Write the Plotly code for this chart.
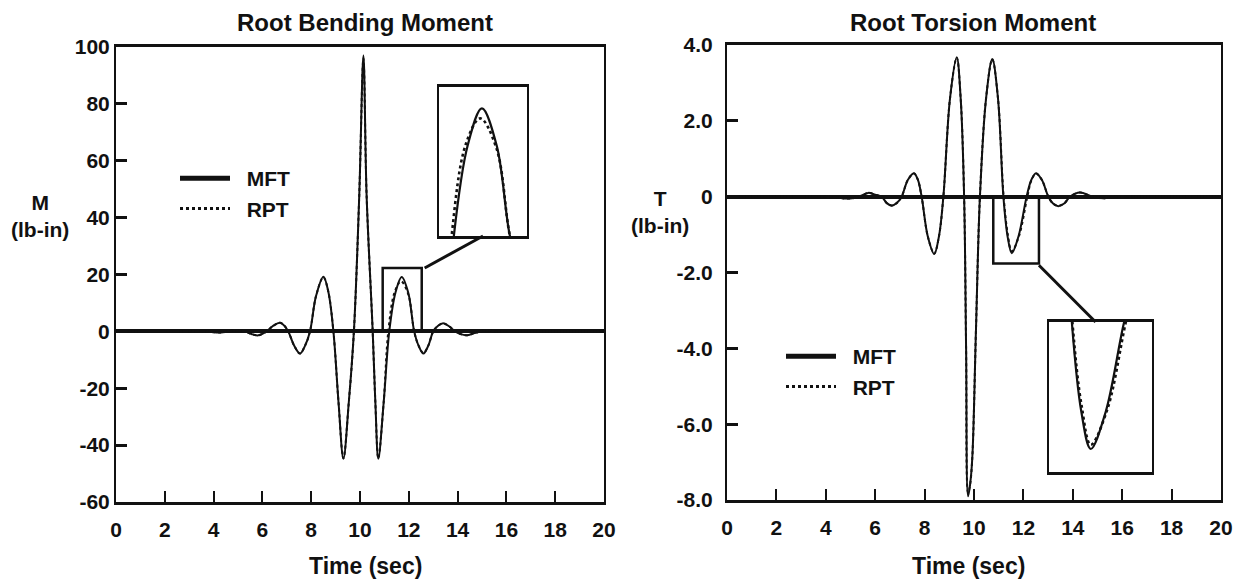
import plotly.graph_objects as go

# ---------------- data ----------------
t_bend_mft = [0.0, 1.0, 2.0, 3.0, 3.6, 4.3, 4.6, 4.95, 5.3, 5.55, 5.83, 6.17, 6.45, 6.72, 6.9,
              7.06, 7.3, 7.54, 7.75, 7.95, 8.2, 8.5, 8.7, 8.91, 9.12, 9.32, 9.54, 9.75, 9.97, 10.14,
              10.27, 10.52, 10.63, 10.75, 10.97, 11.2, 11.45, 11.71, 11.98, 12.22, 12.4, 12.6, 12.8,
              13.0, 13.2, 13.41, 13.65, 13.9, 14.1, 14.37, 14.7, 15.1, 15.6, 16.0, 17.0, 18.0, 19.0, 20.0]
m_bend_mft = [0, 0, 0, 0, 0, -0.4, 0, 0.4, 0, -0.9, -1.4, 0, 2.0, 3.0, 2.0,
              0, -5.0, -7.8, -5.0, 0, 12.5, 19.2, 14.0, 0, -25, -44.8, -25, 0, 48, 97,
              48, 0, -25, -44.8, -25, 0, 13.5, 19.1, 13.5, 0, -5.0, -7.8, -5.0,
              0, 2.0, 2.9, 1.8, 0, -0.9, -1.4, -0.6, 0.3, 0, 0, 0, 0, 0, 0]

t_bend_rpt = [0.0, 1.0, 2.0, 3.0, 3.6, 4.3, 4.6, 4.95, 5.3, 5.55, 5.83, 6.17, 6.45, 6.72, 6.9,
              7.06, 7.3, 7.54, 7.75, 7.95, 8.2, 8.5, 8.7, 8.91, 9.12, 9.32, 9.54, 9.75, 9.97, 10.14,
              10.27, 10.52, 10.63, 10.75, 10.97, 11.16, 11.42, 11.68, 11.98, 12.22, 12.4, 12.6, 12.8,
              13.0, 13.2, 13.41, 13.65, 13.9, 14.1, 14.37, 14.7, 15.1, 15.6, 16.0, 17.0, 18.0, 19.0, 20.0]
m_bend_rpt = [0, 0, 0, 0, 0, -0.4, 0, 0.4, 0, -0.9, -1.4, 0, 2.0, 3.0, 2.0,
              0, -5.0, -7.8, -5.0, 0, 12.5, 19.0, 14.0, 0, -25, -44.6, -25, 0, 48, 96,
              48, 0, -25, -44.6, -25, 0, 13.8, 17.6, 13.0, 0, -5.0, -7.6, -5.0,
              0, 2.0, 2.8, 1.8, 0, -0.9, -1.4, -0.6, 0.3, 0, 0, 0, 0, 0, 0]

t_tors_mft = [0.0, 2.0, 4.0, 4.98, 5.35, 5.72, 6.0, 6.26, 6.47, 6.67, 6.87, 7.07, 7.32, 7.57, 7.73,
              7.88, 8.13, 8.39, 8.58, 8.76, 9.03, 9.3, 9.46, 9.6, 9.68, 9.76, 9.84, 9.93, 10.08, 10.24,
              10.49, 10.74, 10.97, 11.19, 11.36, 11.53, 11.8, 12.13, 12.32, 12.51, 12.75, 13.01, 13.2,
              13.41, 13.65, 13.89, 14.29, 14.8, 15.3, 16.0, 16.6, 18.0, 20.0]
m_tors_mft = [0, 0, 0, -0.05, 0, 0.1, 0.05, 0, -0.17, -0.24, -0.17, 0, 0.44, 0.62, 0.44,
              0, -1.05, -1.51, -1.05, 0, 2.6, 3.68, 2.6, 0, -4.0, -7.9, -7.6, -6.9, -3.5, 0,
              2.6, 3.63, 2.6, 0, -1.05, -1.49, -1.05, 0, 0.44, 0.62, 0.44, 0, -0.18,
              -0.25, -0.18, 0, 0.11, 0, -0.04, 0.02, 0, 0, 0]

t_tors_rpt = [0.0, 2.0, 4.0, 4.98, 5.35, 5.72, 6.0, 6.26, 6.47, 6.67, 6.87, 7.07, 7.32, 7.57, 7.73,
              7.88, 8.13, 8.39, 8.58, 8.76, 9.03, 9.3, 9.46, 9.6, 9.68, 9.76, 9.84, 9.93, 10.08, 10.24,
              10.49, 10.74, 10.97, 11.2, 11.37, 11.53, 11.83, 12.16, 12.33, 12.51, 12.75, 13.01, 13.2,
              13.41, 13.65, 13.89, 14.29, 14.8, 15.3, 16.0, 16.6, 18.0, 20.0]
m_tors_rpt = [0, 0, 0, -0.05, 0, 0.1, 0.05, 0, -0.17, -0.23, -0.17, 0, 0.44, 0.61, 0.44,
              0, -1.05, -1.50, -1.05, 0, 2.6, 3.66, 2.6, 0, -4.0, -7.8, -7.6, -6.9, -3.5, 0,
              2.6, 3.62, 2.6, 0, -1.0, -1.44, -1.02, 0, 0.44, 0.61, 0.44, 0, -0.18,
              -0.24, -0.18, 0, 0.11, 0, -0.04, 0.02, 0, 0, 0]

x_ticks = [0, 2, 4, 6, 8, 10, 12, 14, 16, 18, 20]
bend_yticks = [100, 80, 60, 40, 20, 0, -20, -40, -60]
bend_yticklabels = ["100", "80", "60", "40", "20", "0", "-20", "-40", "-60"]
tors_yticks = [4, 2, 0, -2, -4, -6, -8]
tors_yticklabels = ["4.0", "2.0", "0", "-2.0", "-4.0", "-6.0", "-8.0"]

series_names = ["MFT", "RPT"]

# zoom windows (shown magnified in the insets)
bend_zoom_x = [10.93, 12.53]
bend_zoom_y = [0, 22.3]
tors_zoom_x = [10.78, 12.63]
tors_zoom_y = [-1.76, 0]

# ---------------- layout geometry (page has an 8px body margin) ----------------
OFF = 8
W, H = 1238, 578
def px(x):
    return (x - OFF) / W
def py(y):
    return 1 - (y - OFF) / H

main1_x = [px(116), px(604)]
main1_y = [py(502), py(47)]
main2_x = [px(727), px(1221)]
main2_y = [py(500), py(45)]
ins1_x = [px(439), px(527)]
ins1_y = [py(236), py(87)]
ins2_x = [px(1049), px(1152)]
ins2_y = [py(472), py(322)]

bend_range = [-60, 100]
tors_range = [-8, 4]
t_range = [0, 20]

FONT = "Liberation Sans, Arial, sans-serif"
BLACK = "#111111"

fig = go.Figure()

def add_pair(tm, vm, tr, vr, xa, ya, w_solid=2, w_dot=2):
    fig.add_trace(go.Scatter(x=tm, y=vm, mode="lines", xaxis=xa, yaxis=ya,
                             line=dict(color=BLACK, width=w_solid, shape="spline"),
                             showlegend=False, hoverinfo="skip"))
    fig.add_trace(go.Scatter(x=tr, y=vr, mode="lines", xaxis=xa, yaxis=ya,
                             line=dict(color=BLACK, width=w_dot, dash="dot", shape="spline"),
                             showlegend=False, hoverinfo="skip"))

add_pair(t_bend_mft, m_bend_mft, t_bend_rpt, m_bend_rpt, "x", "y")
add_pair(t_tors_mft, m_tors_mft, t_tors_rpt, m_tors_rpt, "x2", "y2")
add_pair(t_bend_mft, m_bend_mft, t_bend_rpt, m_bend_rpt, "x3", "y3", 2.2, 2.6)
add_pair(t_tors_mft, m_tors_mft, t_tors_rpt, m_tors_rpt, "x4", "y4", 2.2, 2.6)

# legend entries
NB = "\u00a0\u00a0"
for lg, xa, ya in [("legend", "x", "y"), ("legend2", "x2", "y2")]:
    fig.add_trace(go.Scatter(x=[None], y=[None], mode="lines", name=NB + series_names[0],
                             xaxis=xa, yaxis=ya, legend=lg,
                             line=dict(color=BLACK, width=5)))
    fig.add_trace(go.Scatter(x=[None], y=[None], mode="lines", name=NB + series_names[1],
                             xaxis=xa, yaxis=ya, legend=lg,
                             line=dict(color=BLACK, width=3, dash="dot")))

tickfont = dict(family=FONT, size=21, color=BLACK, weight="bold")

def main_x(domain, anchor):
    return dict(domain=domain, anchor=anchor, range=t_range, tickvals=x_ticks,
                ticktext=[str(v) for v in x_ticks], ticks="inside", ticklen=11, tickwidth=2,
                tickcolor=BLACK, showline=True, linewidth=3, linecolor=BLACK, mirror=True,
                showgrid=False, zeroline=False, tickfont=tickfont, ticklabelstandoff=7,
                fixedrange=True, automargin=False)

def main_y(domain, anchor, rng, vals, labels, standoff):
    return dict(domain=domain, anchor=anchor, range=rng, tickvals=vals, ticktext=labels,
                ticks="inside", ticklen=11, tickwidth=2.5, tickcolor=BLACK, showline=True,
                linewidth=2, linecolor=BLACK, mirror=True, showgrid=False, zeroline=True,
                zerolinecolor=BLACK, zerolinewidth=3.5, tickfont=tickfont,
                ticklabelstandoff=standoff, fixedrange=True, automargin=False)

def inset_axis(domain, anchor, rng, lw):
    return dict(domain=domain, anchor=anchor, range=rng, showticklabels=False, ticks="",
                showline=True, linewidth=lw, linecolor=BLACK, mirror=True, showgrid=False,
                zeroline=False, fixedrange=True, automargin=False)

legfont = dict(family=FONT, size=21, color=BLACK, weight="bold")
fig.update_layout(
    width=W, height=H, margin=dict(l=0, r=0, t=0, b=0, autoexpand=False),
    paper_bgcolor="white", plot_bgcolor="rgba(0,0,0,0)",
    font=dict(family=FONT, size=21, color=BLACK),
    xaxis=main_x(main1_x, "y"),
    yaxis=main_y(main1_y, "x", bend_range, bend_yticks, bend_yticklabels, 0),
    xaxis2=main_x(main2_x, "y2"),
    yaxis2=main_y(main2_y, "x2", tors_range, tors_yticks, tors_yticklabels, 8),
    xaxis3=inset_axis(ins1_x, "y3", bend_zoom_x, 3),
    yaxis3=inset_axis(ins1_y, "x3", bend_zoom_y, 2),
    xaxis4=inset_axis(ins2_x, "y4", tors_zoom_x, 3),
    yaxis4=inset_axis(ins2_y, "x4", tors_zoom_y, 2),
    legend=dict(x=px(175), y=py(158), xanchor="left", yanchor="top",
                bgcolor="rgba(0,0,0,0)", font=legfont, itemwidth=50, tracegroupgap=0),
    legend2=dict(x=px(781), y=py(336), xanchor="left", yanchor="top",
                 bgcolor="rgba(0,0,0,0)", font=legfont, itemwidth=50, tracegroupgap=0),
    showlegend=True,
)

# zoom boxes and connectors
def data_from_paper(pxv, pyv, xdom, ydom, xr, yr):
    xd = xr[0] + (pxv - xdom[0]) / (xdom[1] - xdom[0]) * (xr[1] - xr[0])
    yd = yr[0] + (pyv - ydom[0]) / (ydom[1] - ydom[0]) * (yr[1] - yr[0])
    return xd, yd

fig.add_shape(type="rect", xref="x", yref="y", x0=bend_zoom_x[0], x1=bend_zoom_x[1],
              y0=bend_zoom_y[0], y1=bend_zoom_y[1], line=dict(color=BLACK, width=2.5))
cx, cy = data_from_paper((ins1_x[0] + ins1_x[1]) / 2, ins1_y[0], main1_x, main1_y, t_range, bend_range)
fig.add_shape(type="line", xref="x", yref="y", x0=bend_zoom_x[1] + 0.12, y0=bend_zoom_y[1],
              x1=cx, y1=cy, line=dict(color=BLACK, width=3))

fig.add_shape(type="rect", xref="x2", yref="y2", x0=tors_zoom_x[0], x1=tors_zoom_x[1],
              y0=tors_zoom_y[0], y1=tors_zoom_y[1], line=dict(color=BLACK, width=2.5))
cx2, cy2 = data_from_paper((ins2_x[0] + ins2_x[1]) / 2 - 0.004, ins2_y[1], main2_x, main2_y, t_range, tors_range)
fig.add_shape(type="line", xref="x2", yref="y2", x0=tors_zoom_x[1], y0=tors_zoom_y[0] - 0.05,
              x1=cx2, y1=cy2, line=dict(color=BLACK, width=3))

# text
bold = dict(family=FONT, color=BLACK, weight="bold")
annots = [
    dict(text="Root Bending Moment", x=px(365), y=py(22), size=24),
    dict(text="Root Torsion Moment", x=px(973), y=py(22), size=24),
    dict(text="M<br>(lb-in)", x=px(40), y=py(216), size=21),
    dict(text="T<br>(lb-in)", x=px(660), y=py(212), size=21),
    dict(text="Time (sec)", x=px(365), y=py(566), size=23),
    dict(text="Time (sec)", x=px(968), y=py(566), size=23),
]
for a in annots:
    fig.add_annotation(text=a["text"], x=a["x"], y=a["y"], xref="paper", yref="paper",
                       xanchor="center", yanchor="middle", showarrow=False,
                       font=dict(bold, size=a["size"]))

fig.write_html("out.html")
